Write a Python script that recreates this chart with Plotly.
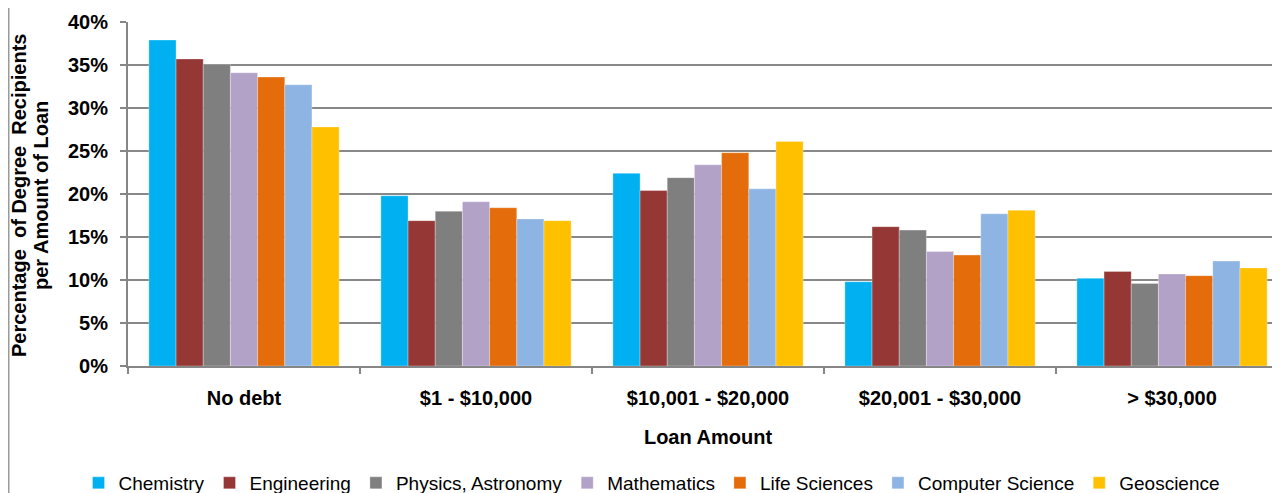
import plotly.graph_objects as go

categories = ["No debt", "$1 - $10,000", "$10,001 - $20,000", "$20,001 - $30,000", "> $30,000"]
series_names = ["Chemistry", "Engineering", "Physics, Astronomy", "Mathematics",
                "Life Sciences", "Computer Science", "Geoscience"]
chemistry = [0.379, 0.198, 0.224, 0.098, 0.102]
engineering = [0.357, 0.169, 0.204, 0.162, 0.110]
physics = [0.351, 0.180, 0.219, 0.158, 0.096]
mathematics = [0.341, 0.191, 0.234, 0.133, 0.107]
life_sciences = [0.336, 0.184, 0.248, 0.129, 0.105]
computer_science = [0.327, 0.171, 0.206, 0.177, 0.122]
geoscience = [0.278, 0.169, 0.261, 0.181, 0.114]
y_ticks = [0, 0.05, 0.10, 0.15, 0.20, 0.25, 0.30, 0.35, 0.40]
y_title_lines = ["Percentage  of Degree  Recipients", "per Amount of Loan"]

all_series = [chemistry, engineering, physics, mathematics, life_sciences, computer_science, geoscience]
colors = ["#00B0F0", "#953735", "#7F7F7F", "#B3A2C7", "#E46C0A", "#8EB4E3", "#FFC000"]

font_family = "Liberation Sans, Arial, sans-serif"

fig = go.Figure()
for name, vals, col in zip(series_names, all_series, colors):
    fig.add_trace(go.Bar(
        name=name, x=categories, y=vals,
        marker=dict(color=col, line=dict(color="rgba(255,255,255,0.6)", width=0.5)),
    ))

fig.update_layout(
    width=1280, height=493,
    barmode="group", bargap=0.18, bargroupgap=0,
    plot_bgcolor="white", paper_bgcolor="white",
    margin=dict(l=120, r=0, t=14, b=135, autoexpand=False),
    font=dict(family=font_family, color="black"),
    legend=dict(
        orientation="h", x=644 / 1280, xanchor="center", xref="container",
        y=1 - 475 / 493, yanchor="middle", yref="container",
        font=dict(size=19, family=font_family, color="black"),
        itemwidth=30, tracegroupgap=0,
    ),
    xaxis=dict(
        range=[-0.5, 4.5], automargin=False,
        showline=True, linecolor="#868686", linewidth=2,
        ticks="outside", tickson="boundaries", ticklen=6, tickcolor="#868686", tickwidth=2,
        tickfont=dict(size=20, weight="bold", family=font_family),
        ticklabelstandoff=13,
        title=dict(text="Loan Amount", font=dict(size=20, weight="bold", family=font_family), standoff=22),
        showgrid=False,
    ),
    yaxis=dict(
        range=[0, 0.4], tickvals=y_ticks, tickformat=".0%", automargin=False,
        showline=True, linecolor="#868686", linewidth=2,
        ticks="outside", ticklen=6, tickcolor="#868686", tickwidth=2,
        ticklabelstandoff=8,
        showgrid=True, gridcolor="#888888", gridwidth=2,
        zeroline=False,
        tickfont=dict(size=20, weight="bold", family=font_family),
    ),
)

for line_text, x_px in zip(y_title_lines, [10.5, 32.5]):
    fig.add_annotation(
        text=line_text, textangle=-90, showarrow=False,
        xref="paper", yref="paper", x=(x_px - 120) / 1160, y=(358 - 187.5) / 344,
        xanchor="center", yanchor="middle",
        font=dict(size=20, weight="bold", family=font_family, color="black"),
    )

fig.add_shape(type="line", xref="paper", yref="paper",
              x0=-119.25 / 1160, x1=-119.25 / 1160, y0=-0.5, y1=1.2,
              line=dict(color="#9a9a9a", width=1.5))

fig.write_html("out.html")
